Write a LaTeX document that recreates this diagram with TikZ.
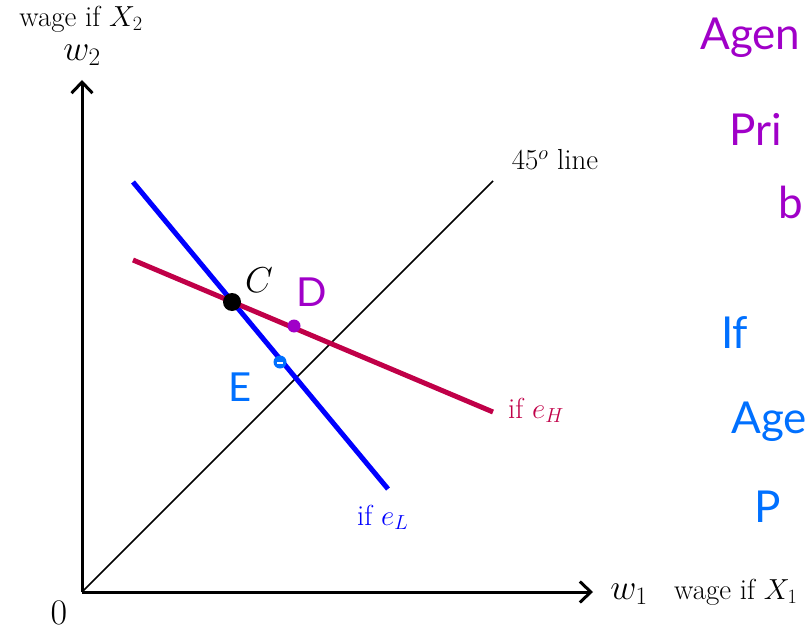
\RequirePackage{fix-cm}
\documentclass[tikz,border=0pt]{standalone}
\usepackage{fontspec}
\usetikzlibrary{arrows.meta}
\newfontfamily\hand{Lato}
\definecolor{hpurple}{RGB}{160,0,200}
\definecolor{hblue}{RGB}{0,112,255}
\definecolor{eHred}{RGB}{192,0,72}
\definecolor{eLblue}{RGB}{0,0,255}
\begin{document}
\begin{tikzpicture}[x=1pt,y=-1pt,
  axis/.style={line width=3pt,-{Straight Barb[length=11pt,width=21pt,line width=3pt]}},
  lbl/.style={inner sep=0pt,font=\fontsize{29}{33}\selectfont},
  biglbl/.style={inner sep=0pt,font=\fontsize{36}{40}\selectfont},
  handp/.style={inner sep=0pt,anchor=base west,text=hpurple,font=\hand\fontsize{44}{48}\selectfont},
  handb/.style={inner sep=0pt,anchor=base west,text=hblue,font=\hand\fontsize{44}{48}\selectfont},
  dotC/.style={circle,fill=black,inner sep=0pt,minimum size=18pt}]
\useasboundingbox (0,0) rectangle (810,631);
\clip (0,0) rectangle (810,631);
\coordinate (O) at (82,592);
\coordinate (Ytip) at (82,80);
\coordinate (Xtip) at (593,592);
\coordinate (F45) at (493,181);
\coordinate (B1) at (133,182);
\coordinate (B2) at (388,489);
\coordinate (R1) at (133,260);
\coordinate (R2) at (493,412);
% axes
\draw[axis] (O) -- (Ytip);
\draw[axis] (O) -- (Xtip);
% 45 line
\draw[line width=1.5pt] (O) -- (F45);
% constraint lines
\draw[eLblue,line width=5pt] (B1) -- (B2);
\draw[eHred,line width=5pt] (R1) -- (R2);
\node[dotC] (C) at (232,302) {};
\node[circle,fill=hpurple,inner sep=0pt,minimum size=13pt] (Dd) at (294,326) {};
\node[circle,fill=hblue,inner sep=0pt,minimum size=13pt] (Ed) at (280,362) {};
\fill[white] (277,362) rectangle (283,363.5);
% labels
\node[lbl] (yl) at (81,19) {wage if $X_2$};
\node[biglbl] (w2) at (82,55) {$w_2$};
\node[biglbl] (w1) at (629,594) {$w_1$};
\node[lbl,anchor=west] (xl) at (674,592) {wage if $X_1$};
\node[biglbl] (zero) at (59,613) {$0$};
\node[lbl] (l45) at (555,160) {$45^o$\ line};
\node[lbl,anchor=west,text=eHred] (leH) at (508,410) {if $e_H$};
\node[lbl,anchor=west,text=eLblue] (leL) at (357,517) {if $e_L$};
\node[biglbl] (Cl) at (259,280) {$C$};
\node[inner sep=0pt,text=hpurple,font=\hand\fontsize{40}{44}\selectfont] (Dl) at (312,292) {D};
\node[inner sep=0pt,text=hblue,font=\hand\fontsize{40}{44}\selectfont] (El) at (240,387) {E};
% handwritten notes
\node[handp] (n1) at (700,50) {Agen};
\node[handp] (n2) at (729,146) {Pri};
\node[handp] (n3) at (778,218) {b};
\node[handb] (n4) at (721,348) {If};
\node[handb] (n5) at (731,433) {Age};
\node[handb] (n6) at (754,522) {P};
\end{tikzpicture}
\end{document}
